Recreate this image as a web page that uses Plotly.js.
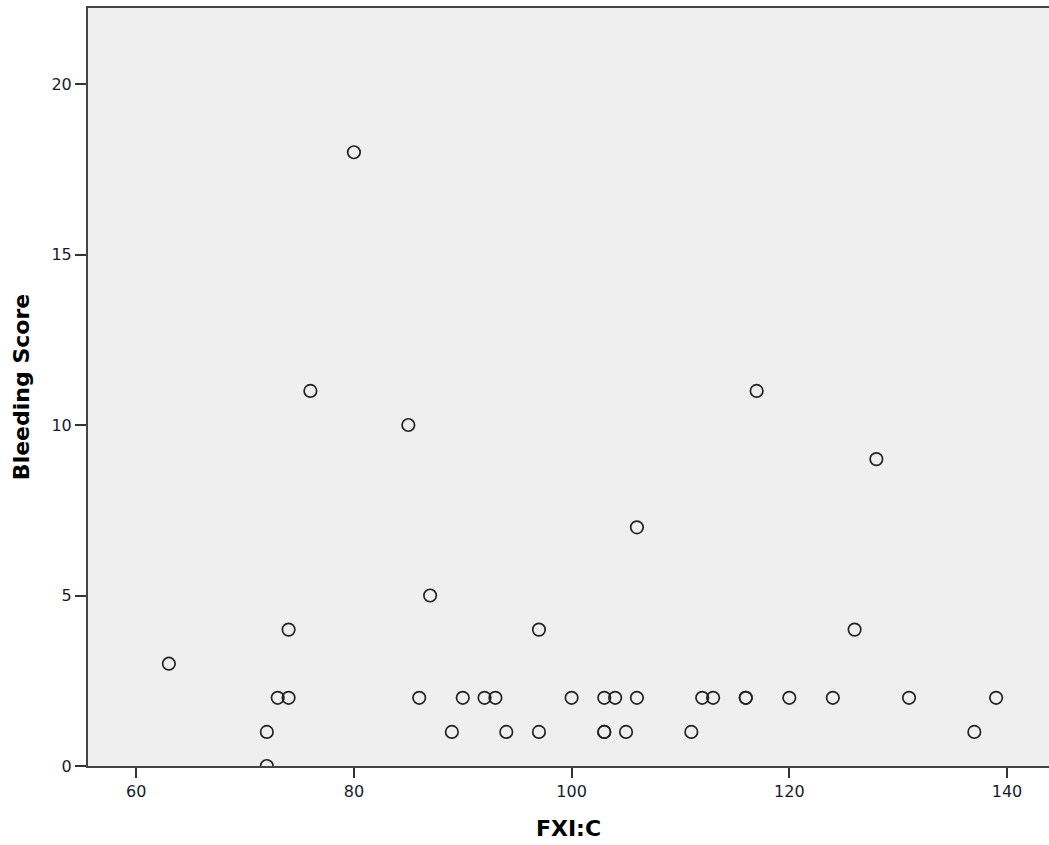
<!DOCTYPE html>
<html>
<head>
<meta charset="utf-8">
<script src="https://cdn.plot.ly/plotly-3.0.1.min.js"></script>
<style>html,body{margin:0;padding:0;background:#fff;}#chart{width:1049px;height:845px;}</style>
</head>
<body>
<div id="chart"></div>
<script>
// FXI:C values and Bleeding Score (duplicates kept where markers overlap)
const fxiC = [63, 72, 72, 73, 74, 74, 76, 80, 85, 86, 87, 89, 90, 92, 93, 94, 97, 97, 100, 103, 103, 103, 104, 105, 106, 106, 111, 112, 113, 116, 116, 117, 120, 124, 126, 128, 131, 137, 139];
const bleedingScore = [3, 1, 0, 2, 2, 4, 11, 18, 10, 2, 5, 1, 2, 2, 2, 1, 4, 1, 2, 2, 1, 1, 2, 1, 2, 7, 1, 2, 2, 2, 2, 11, 2, 2, 4, 9, 2, 1, 2];
const xTicks = [60, 80, 100, 120, 140];
const yTicks = [0, 5, 10, 15, 20];

const trace = {
  x: fxiC,
  y: bleedingScore,
  type: 'scatter',
  mode: 'markers',
  marker: {symbol: 'circle-open', size: 12.5, color: '#222', line: {width: 1.7, color: '#222'}},
  cliponaxis: true,
  hoverinfo: 'x+y'
};

const layout = {
  width: 1049, height: 845,
  margin: {l: 88, r: 0, t: 8, b: 79, pad: 0},
  paper_bgcolor: '#ffffff',
  plot_bgcolor: '#efefef',
  showlegend: false,
  font: {family: 'DejaVu Sans, sans-serif', color: '#1a1a2e', size: 16},
  xaxis: {
    range: [55.57, 143.86],
    tickvals: xTicks, ticktext: xTicks.map(String),
    ticks: 'outside', ticklen: 10, tickwidth: 2, tickcolor: '#333',
    showgrid: false, zeroline: false,
    showline: true, linecolor: '#444', linewidth: 2, mirror: true,
    tickfont: {size: 16},
    title: {text: 'FXI:C', font: {size: 22, color: '#000', family: 'DejaVu Sans, sans-serif', weight: 'bold'}, standoff: 20}
  },
  yaxis: {
    range: [0, 22.23],
    tickvals: yTicks, ticktext: yTicks.map(String),
    ticks: 'outside', ticklen: 11, tickwidth: 2, tickcolor: '#333',
    showgrid: false, zeroline: false,
    showline: true, linecolor: '#444', linewidth: 2,
    tickfont: {size: 16},
    title: {text: 'Bleeding Score', font: {size: 22, color: '#000', family: 'DejaVu Sans, sans-serif', weight: 'bold'}, standoff: 16}
  }
};

Plotly.newPlot('chart', [trace], layout, {displayModeBar: false, staticPlot: true});
</script>
</body>
</html>
